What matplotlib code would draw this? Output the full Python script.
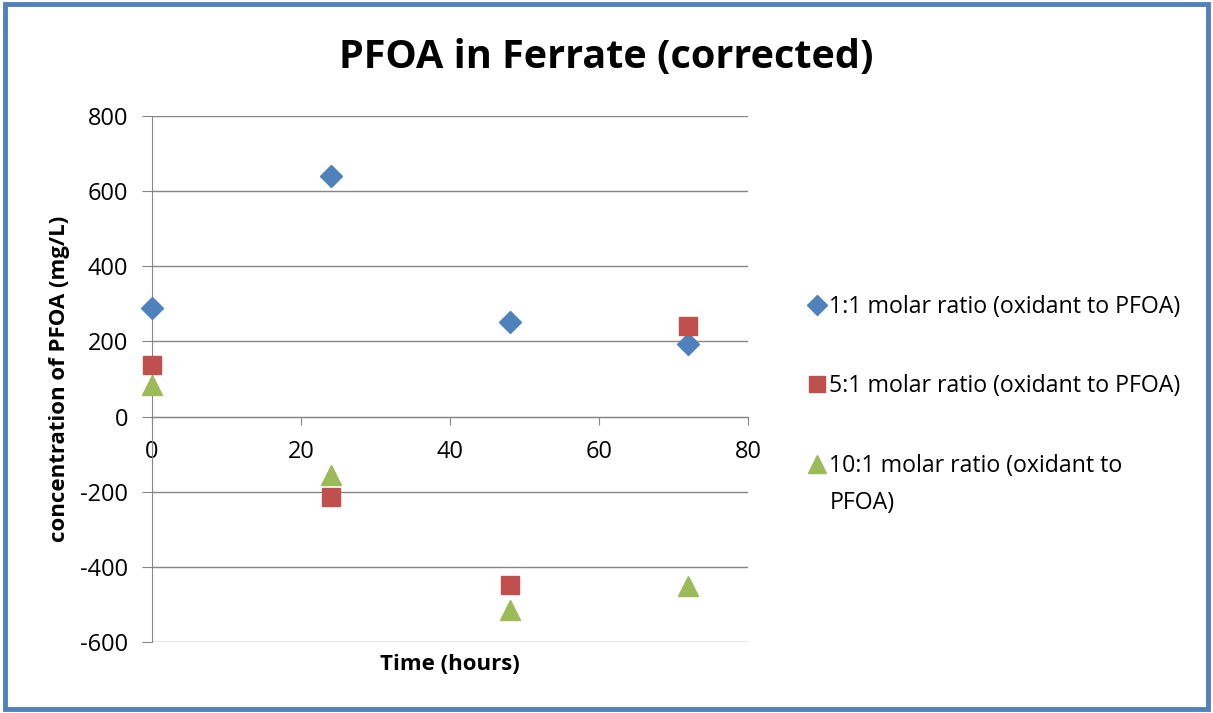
import matplotlib.pyplot as plt
from matplotlib.patches import Rectangle

# time points (hours)
hours = [0, 24, 48, 72]

# concentration of PFOA (mg/L) for each oxidant ratio
ratio_1_1 = [290, 640, 252, 192]
ratio_5_1 = [138, -215, -448, 240]
ratio_10_1 = [85, -155, -515, -450]

labels = ['1:1 molar ratio (oxidant to PFOA)',
          '5:1 molar ratio (oxidant to PFOA)',
          '10:1 molar ratio (oxidant to']
label_wrap = 'PFOA)'

x_ticks = [0, 20, 40, 60, 80]
y_ticks = [-600, -400, -200, 0, 200, 400, 600, 800]

plt.rcParams['font.family'] = ['Open Sans', 'DejaVu Sans']
plt.rcParams['axes.unicode_minus'] = False

figure = plt.figure(figsize=(12.13, 7.13), dpi=100)
ax = figure.add_axes([0.1253, 0.0996, 0.4913, 0.7377])

grid_color = '#868686'

# the three series
ax.plot(hours, ratio_1_1, linestyle='none', marker='D', markersize=11,
        color='#4F81BD', label=labels[0], clip_on=False, zorder=3)
ax.plot(hours, ratio_5_1, linestyle='none', marker='s', markersize=13,
        color='#C0504D', label=labels[1], clip_on=False, zorder=3)
ax.plot(hours, ratio_10_1, linestyle='none', marker='^', markersize=14,
        color='#9BBB59', label=labels[2], clip_on=False, zorder=3)

ax.set_xlim(0, 80)
ax.set_ylim(-600, 800)
ax.set_xticks(x_ticks)
ax.set_yticks(y_ticks)

# horizontal gridlines only
ax.yaxis.grid(True, color=grid_color, linewidth=1)
ax.set_axisbelow(True)

# x axis crosses at zero, like excel
ax.spines['bottom'].set_position(('data', 0))
ax.spines['top'].set_visible(False)
ax.spines['right'].set_visible(False)
ax.spines['left'].set_color(grid_color)
ax.spines['bottom'].set_color(grid_color)

ax.tick_params(axis='x', direction='out', length=6, color=grid_color,
               labelsize=17, pad=11)
ax.tick_params(axis='y', direction='out', length=7, color=grid_color,
               labelsize=17, pad=10)

ax.set_xlabel('Time (hours)', fontsize=16, fontweight='bold')
ax.xaxis.set_label_coords(0.5, -0.022)
ax.set_ylabel('concentration of PFOA (mg/L)', fontsize=16, fontweight='bold')
ax.yaxis.set_label_coords(-0.138, 0.5)

figure.suptitle('PFOA in Ferrate (corrected)', fontsize=28.5, fontweight='bold',
                x=0.5, y=0.947)

legend = figure.legend(loc='upper left', bbox_to_anchor=(0.656, 0.603),
                       frameon=False, fontsize=16.7, labelspacing=2.4,
                       handletextpad=0.15, handlelength=0.8, borderpad=0,
                       markerscale=0.9)

# second line of the third legend entry, one line below its first line
figure.canvas.draw()
first_line = legend.get_texts()[2].get_window_extent()
to_fig = figure.transFigure.inverted()
x0, y0 = to_fig.transform((first_line.x0, first_line.y0 - 37))
figure.text(x0, y0, label_wrap, fontsize=16.7, ha='left', va='bottom')

# blue border around the whole chart
figure.patches.append(Rectangle((0.004, 0.006), 0.992, 0.988,
                                transform=figure.transFigure, fill=False,
                                edgecolor='#4F81BD', linewidth=3.5))

figure.savefig('out.png', dpi=100)
